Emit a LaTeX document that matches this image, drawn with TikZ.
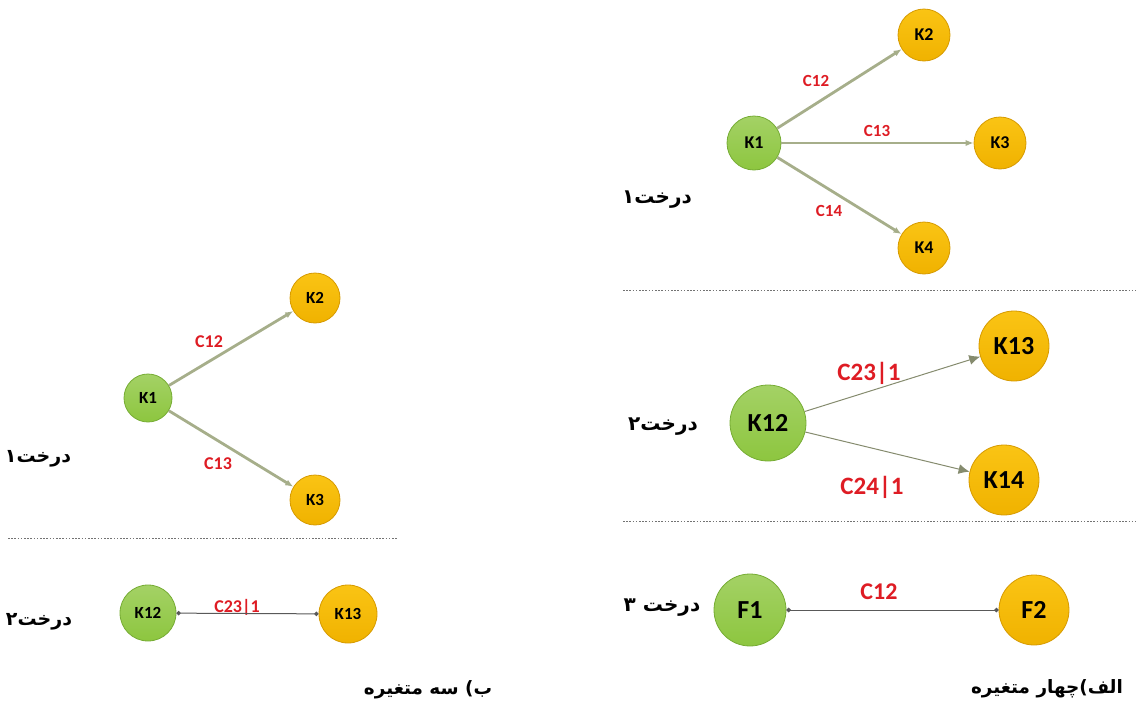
\documentclass[tikz,border=0pt]{standalone}
\usepackage{fontspec}
\setmainfont{Carlito}
\newfontfamily\fafont[Script=Arabic]{DejaVu Sans}
\TeXXeTstate=1
\usetikzlibrary{arrows.meta}
\definecolor{leafgreen}{RGB}{141,198,63}
\definecolor{leafgreendark}{RGB}{118,172,52}
\definecolor{amber}{RGB}{240,178,0}
\definecolor{amberlight}{RGB}{250,196,20}
\definecolor{amberdark}{RGB}{214,154,0}
\definecolor{sage}{RGB}{166,174,138}
\definecolor{sagelight}{RGB}{200,206,170}
\definecolor{copred}{RGB}{222,28,36}
\begin{document}
\begin{tikzpicture}[x=0.5pt,y=-0.5pt,
    root/.style={circle,draw=leafgreendark,top color=leafgreen!80!white,bottom color=leafgreen,inner sep=0pt,font=\bfseries},
    leaf/.style={circle,draw=amberdark,top color=amberlight,bottom color=amber,inner sep=0pt,font=\bfseries},
    cop/.style={text=copred,font=\bfseries},
    tree/.style={font=\fafont\bfseries},
    sagearrow/.style={draw=sage,line width=1.4pt,-{Latex[length=4pt,width=3.2pt]}},
    doublearrow/.style={draw=sage!80!black,line width=0.5pt,double=sagelight,double distance=1.9pt,-{Latex[length=5.5pt,width=5pt]}},
    dotline/.style={draw=black!65,line width=0.5pt,{Circle[length=2.2pt]}-{Circle[length=2.2pt]}},
    sep/.style={draw=black!55,line width=0.4pt,dash pattern=on 0.8pt off 0.8pt}]
  \useasboundingbox (0,0) rectangle (1136,702);
  % right: four variables
  \draw
    (754,143) node[root,minimum size=27pt,font=\bfseries\fontsize{9}{10}\selectfont] (r1k1){K1}
    (924,35) node[leaf,minimum size=26pt,font=\bfseries\fontsize{9}{10}\selectfont] (r1k2){K2}
    (1000,143) node[leaf,minimum size=26pt,font=\bfseries\fontsize{9}{10}\selectfont] (r1k3){K3}
    (924,248) node[leaf,minimum size=26pt,font=\bfseries\fontsize{9}{10}\selectfont] (r1k4){K4}
    (816,81) node[cop,font=\bfseries\fontsize{8.5}{10}\selectfont] (r1c12){C12}
    (877,131) node[cop,font=\bfseries\fontsize{8.5}{10}\selectfont] (r1c13){C13}
    (829,211) node[cop,font=\bfseries\fontsize{8.5}{10}\selectfont] (r1c14){C14}
    (657,200) node[tree,font=\fafont\bfseries\fontsize{10}{12}\selectfont] (r1t){\beginR درخت۱\endR};
  \draw
    (768,423) node[root,minimum size=38pt,font=\bfseries\fontsize{13}{15}\selectfont] (r2k12){K12}
    (1014,346) node[leaf,minimum size=35pt,font=\bfseries\fontsize{13}{15}\selectfont] (r2k13){K13}
    (1004,480) node[leaf,minimum size=35pt,font=\bfseries\fontsize{13}{15}\selectfont] (r2k14){K14}
    (869,373) node[cop,font=\bfseries\fontsize{12.5}{15}\selectfont] (r2c23){C23|1}
    (872,487) node[cop,font=\bfseries\fontsize{12.5}{15}\selectfont] (r2c24){C24|1}
    (663,427) node[tree,font=\fafont\bfseries\fontsize{10}{12}\selectfont] (r2t){\beginR درخت۲\endR};
  \draw
    (750,610) node[root,minimum size=36pt,font=\bfseries\fontsize{13}{15}\selectfont] (f1){F1}
    (1034,610) node[leaf,minimum size=35pt,font=\bfseries\fontsize{13}{15}\selectfont] (f2){F2}
    (879,592) node[cop,font=\bfseries\fontsize{12}{15}\selectfont] (r3c12){C12}
    (662,608) node[tree,font=\fafont\bfseries\fontsize{10}{12}\selectfont] (r3t){\beginR درخت ۳\endR}
    (1047,689) node[tree,font=\fafont\bfseries\fontsize{9.2}{12}\selectfont] (rtitle){\beginR الف)چهار متغیره\endR};
  % left: three variables
  \draw
    (148,398) node[root,minimum size=24pt,font=\bfseries\fontsize{8.5}{10}\selectfont] (l1k1){K1}
    (315,298) node[leaf,minimum size=25pt,font=\bfseries\fontsize{8.5}{10}\selectfont] (l1k2){K2}
    (315,500) node[leaf,minimum size=25pt,font=\bfseries\fontsize{8.5}{10}\selectfont] (l1k3){K3}
    (209,342) node[cop,font=\bfseries\fontsize{9}{10}\selectfont] (l1c12){C12}
    (218,464) node[cop,font=\bfseries\fontsize{9}{10}\selectfont] (l1c13){C13}
    (38,459) node[tree,font=\fafont\bfseries\fontsize{9.5}{12}\selectfont] (l1t){\beginR درخت۱\endR};
  \draw
    (148,613) node[root,minimum size=28pt,font=\bfseries\fontsize{8.5}{10}\selectfont] (l2k12){K12}
    (348,614) node[leaf,minimum size=29pt,font=\bfseries\fontsize{8.5}{10}\selectfont] (l2k13){K13}
    (237,607) node[cop,font=\bfseries\fontsize{9}{10}\selectfont] (l2c23){C23|1}
    (39,622) node[tree,font=\fafont\bfseries\fontsize{9.5}{12}\selectfont] (l2t){\beginR درخت۲\endR}
    (428,690) node[tree,font=\fafont\bfseries\fontsize{9.2}{12}\selectfont] (ltitle){\beginR ب) سه متغیره\endR};
  \begin{scope}[sagearrow]
    \draw (r1k1) to (r1k2);
    \draw (r1k1) to (r1k3);
    \draw (r1k1) to (r1k4);
    \draw (l1k1) to (l1k2);
    \draw (l1k1) to (l1k3);
  \end{scope}
  \begin{scope}[doublearrow]
    \draw (r2k12) to (r2k13);
    \draw (r2k12) to (r2k14);
  \end{scope}
  \begin{scope}[dotline]
    \draw (f1) to (f2);
    \draw (l2k12) to (l2k13);
  \end{scope}
  \begin{scope}[sep]
    \draw (623,290) -- (1136,290);
    \draw (623,521) -- (1136,521);
    \draw (8,538) -- (398,538);
  \end{scope}
\end{tikzpicture}
\end{document}
